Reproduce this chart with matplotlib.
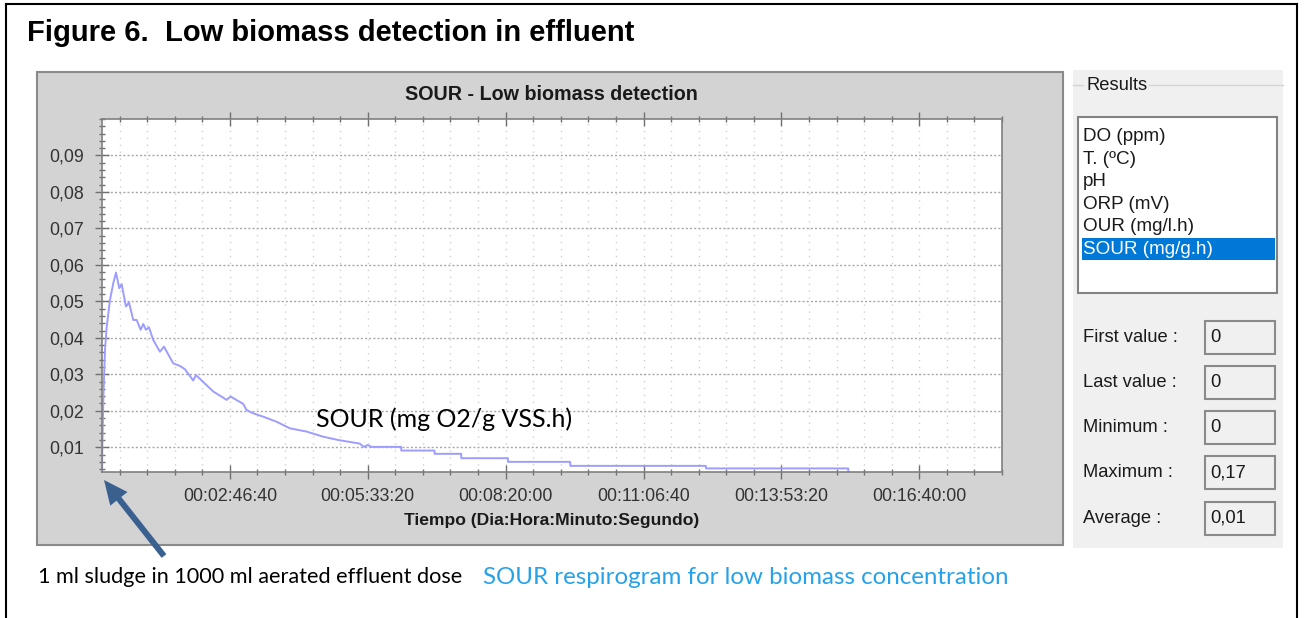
import matplotlib
matplotlib.use("Agg")
import matplotlib.pyplot as plt
from matplotlib.patches import Rectangle, FancyArrow
from matplotlib.ticker import FuncFormatter, MultipleLocator, FixedLocator

W, H = 1305, 618

# ---------------- data ----------------
time_s = [725, 747, 819, 942, 1066, 1305, 1544, 1740, 1979, 2153, 2464, 2682,
          2993, 3240, 3529, 3718, 3913, 4131, 4442, 4928, 5218, 5892, 6377,
          6739, 7341, 7536, 8790, 9761, 10051, 10964, 11210, 11688, 12413,
          13384, 14348, 15558, 16761, 17847, 19420, 19710, 20000, 20290,
          22420, 22430, 24840, 24850, 26775, 26785, 30160, 30170, 34680,
          34690, 44520, 44530, 54845, 54890]
sour = [0.0, 0.0093, 0.023, 0.0367, 0.043, 0.0504, 0.055, 0.0579, 0.0536,
        0.0547, 0.0486, 0.0497, 0.0449, 0.0449, 0.0422, 0.0438, 0.0422,
        0.0429, 0.0394, 0.0362, 0.0376, 0.0330, 0.0323, 0.0314, 0.0283,
        0.0298, 0.0253, 0.0230, 0.0239, 0.0219, 0.0202, 0.0193, 0.0184,
        0.0170, 0.0152, 0.0143, 0.0129, 0.0120, 0.0110, 0.0101, 0.0106,
        0.0101, 0.0101, 0.0091, 0.0091, 0.0082, 0.0082, 0.0070, 0.0070,
        0.0060, 0.0060, 0.0049, 0.0049, 0.0042, 0.0042, 0.0]
y_ticks = [0.01, 0.02, 0.03, 0.04, 0.05, 0.06, 0.07, 0.08, 0.09]
x_ticks = [10000, 20000, 30000, 40000, 50000, 60000]
results_items = ["DO (ppm)", "T. (ºC)", "pH", "ORP (mV)", "OUR (mg/l.h)", "SOUR (mg/g.h)"]
selected_item = "SOUR (mg/g.h)"
stat_labels = ["First value :", "Last value :", "Minimum :", "Maximum :", "Average :"]
stat_values = ["0", "0", "0", "0,17", "0,01"]

fig_title = "Figure 6.  Low biomass detection in effluent"
chart_title = "SOUR - Low biomass detection"
x_label = "Tiempo (Dia:Hora:Minuto:Segundo)"
series_label = "SOUR (mg O2/g VSS.h)"
note_black = "1 ml sludge in 1000 ml aerated effluent dose"
note_blue = "SOUR respirogram for low biomass concentration"

SANS = ["Liberation Sans", "DejaVu Sans"]
CAL = ["Lato", "DejaVu Sans"]

fig = plt.figure(figsize=(W / 100, H / 100), dpi=100)
fig.patch.set_facecolor("white")

# background "pixel" axes
bg = fig.add_axes([0, 0, 1, 1])
bg.set_xlim(0, W)
bg.set_ylim(H, 0)
bg.axis("off")

# outer frame
bg.plot([6, 6], [4, H], color="black", lw=1.5)
bg.plot([6, 1297], [4, 4], color="black", lw=1.5)
bg.plot([1297, 1297], [4, H], color="black", lw=1.5)

bg.text(27, 33, fig_title, family=SANS, weight="bold", fontsize=21,
        va="center", ha="left", color="black")

# gray chart panel
bg.add_patch(Rectangle((37, 72), 1026, 473, facecolor="#d3d3d3",
                       edgecolor="#8a8a8a", lw=1.5))
bg.text(551, 95, chart_title, family=SANS, weight="bold", fontsize=14.2,
        va="center", ha="center", color="#1a1a1a")
bg.text(552, 521, x_label, family=SANS, weight="bold", fontsize=12.6,
        va="center", ha="center", color="#1a1a1a")

# right panel
bg.add_patch(Rectangle((1073, 70), 210, 478, facecolor="#f0f0f0", edgecolor="none"))
bg.plot([1073, 1083], [85, 85], color="#d5d5d5", lw=1)
bg.plot([1149, 1283], [85, 85], color="#d5d5d5", lw=1)
bg.text(1086, 85, "Results", family=SANS, fontsize=13.2, va="center", ha="left",
        color="#1a1a1a")
bg.add_patch(Rectangle((1078, 117), 199, 176, facecolor="white",
                       edgecolor="#828282", lw=1.5))
for i, item in enumerate(results_items):
    yc = 136.7 + i * 22.5
    col = "#1a1a1a"
    if item == selected_item:
        bg.add_patch(Rectangle((1081.5, yc - 11.3), 193, 22.2,
                               facecolor="#0078d7", edgecolor="none"))
        col = "white"
    bg.text(1083, yc, item, family=SANS, fontsize=13.6, va="center",
            ha="left", color=col)

for i, (lab, val) in enumerate(zip(stat_labels, stat_values)):
    yc = 337 + i * 45.3
    bg.text(1083, yc, lab, family=SANS, fontsize=13.2, va="center", ha="left",
            color="#1a1a1a")
    bg.add_patch(Rectangle((1205, yc - 16.5), 70, 33, facecolor="#f0f0f0",
                           edgecolor="#8a8a8a", lw=1.5))
    bg.text(1210, yc, val, family=SANS, fontsize=13.2, va="center", ha="left",
            color="#1a1a1a")

# arrow
bg.add_patch(FancyArrow(164, 556, -60, -76, width=6, head_width=22,
                        head_length=24, length_includes_head=True,
                        color="#3a6090", lw=0))

bg.text(38, 577, note_black, family=CAL, fontsize=15.6, va="center",
        ha="left", color="black")
bg.text(483, 577, note_blue, family=CAL, fontsize=17.4, va="center",
        ha="left", color="#27a2e8")

# ---------------- chart axes ----------------
L, T, R, B = 102, 119, 1002, 471.7
ax = fig.add_axes([L / W, 1 - B / H, (R - L) / W, (B - T) / H])
ax.set_facecolor("white")
ax.plot(time_s, sour, color="#9d9dff", lw=1.4)
ax.set_xlim(725, 66000)
ax.set_ylim(0.0033, 0.1)

ax.xaxis.set_major_locator(FixedLocator(x_ticks))
ax.xaxis.set_minor_locator(MultipleLocator(2000))
ax.yaxis.set_major_locator(FixedLocator(y_ticks))
ax.yaxis.set_minor_locator(MultipleLocator(0.002))


def fmt_time(t, pos):
    t = int(round(t))
    d = t // 86400
    h = (t % 86400) // 3600
    m = (t % 3600) // 60
    s = t % 60
    return f"{d:02d}:{h:02d}:{m:02d}:{s:02d}"


ax.xaxis.set_major_formatter(FuncFormatter(fmt_time))
ax.yaxis.set_major_formatter(FuncFormatter(lambda v, p: f"{v:.2f}".replace(".", ",")))

ax.tick_params(axis="both", which="major", direction="inout", length=10,
               width=1, color="#707070", labelsize=12.8, labelcolor="#333333")
ax.tick_params(axis="both", which="minor", direction="inout", length=5,
               width=1, color="#707070")
ax.tick_params(axis="x", which="both", top=True, pad=7)
ax.tick_params(axis="y", which="major", pad=8)
for lab in ax.get_xticklabels() + ax.get_yticklabels():
    lab.set_family(SANS)

ax.grid(which="major", axis="y", linestyle=(0, (1.5, 1.5)), color="#a8a8a8", lw=1)
ax.grid(which="both", axis="x", linestyle=(0, (1, 4)), color="#d0d0d0", lw=1)
ax.set_axisbelow(True)
for sp in ax.spines.values():
    sp.set_color("#808080")
    sp.set_linewidth(1.2)

ax.text(316, 419, series_label, transform=bg.transData, family=CAL,
        fontsize=18, va="center", ha="left", color="black")

fig.savefig("out.png", dpi=100)
